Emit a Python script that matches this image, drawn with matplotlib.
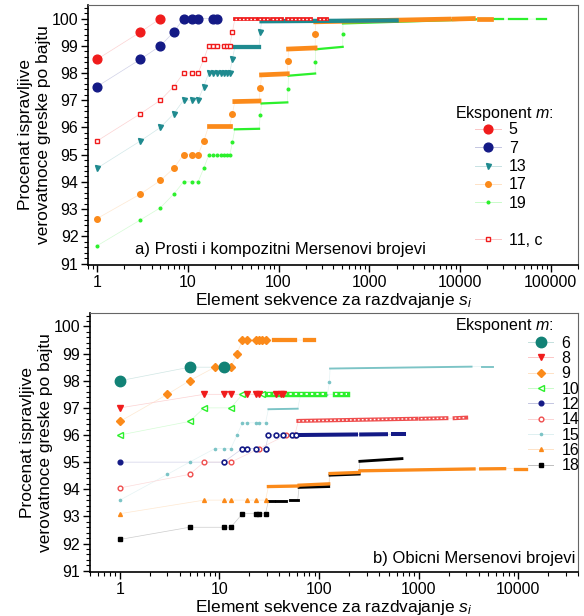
import numpy as np
import matplotlib.pyplot as plt
from matplotlib.lines import Line2D
from matplotlib.ticker import MultipleLocator, LogLocator, NullFormatter, FixedLocator, FixedFormatter
from matplotlib.colors import to_rgb

plt.rcParams['font.family'] = ['Liberation Sans', 'DejaVu Sans']
plt.rcParams['mathtext.fontset'] = 'custom'
plt.rcParams['mathtext.it'] = 'Liberation Sans:italic'
plt.rcParams['mathtext.rm'] = 'Liberation Sans'

# ---------- panel a) Prosti i kompozitni ----------
# isolated points (s_i, percent) and dense runs (s_start, s_end, y_start, y_end)
m5_pts = [(1, 98.5), (3, 99.5), (5, 100.0)]
m7_pts = [(1, 97.5), (3, 98.5), (5, 99.0), (7, 99.5), (9, 100), (11, 100), (13, 100), (19, 100), (21, 100)]
m13_pts = [(1, 94.5), (3, 95.5), (5, 96.0), (7, 96.5), (9, 97), (11, 97), (13, 97), (15, 97.5),
           (17, 98), (19, 98), (21, 98), (23, 98), (25, 98), (27, 98), (29, 98), (31, 98.5), (63, 99.5)]
m13_runs = [(33, 61, 98.95, 98.95), (65, 2000, 99.9, 99.93)]
m17_pts = [(1, 92.65), (3, 93.55), (5, 94.05), (7, 94.5), (9, 95), (11, 95), (13, 95), (15, 95.5),
           (31, 96.5), (63, 97.45), (127, 98.45), (255, 99.45)]
m17_runs = [(17, 29, 96.05, 96.05), (33, 61, 96.95, 96.97), (65, 125, 97.93, 97.97),
            (129, 253, 98.88, 98.92), (257, 7500, 99.88, 99.98), (8500, 14000, 99.98, 100.0),
            (16000, 22000, 100.0, 100.0)]
m19_pts = [(1, 91.65), (3, 92.6), (5, 93.05), (7, 93.55), (9, 94), (11, 94), (13, 94), (15, 94.5),
           (17, 94.97), (19, 94.97), (21, 94.97), (23, 94.97), (25, 94.97), (27, 94.97), (29, 94.97),
           (31, 95.45), (63, 96.45), (127, 97.4), (255, 98.4), (511, 99.45)]
m19_runs = [(33, 61, 95.93, 95.95), (65, 125, 96.88, 96.92), (129, 253, 97.9, 97.98),
            (257, 509, 98.87, 98.96), (513, 15000, 99.82, 99.97), (17000, 30000, 99.98, 99.98),
            (35000, 55000, 99.98, 99.98), (70000, 89000, 99.98, 99.98)]
m11c_pts = [(1, 95.5), (3, 96.5), (5, 97.0), (7, 97.5), (9, 98), (11, 98), (13, 98), (15, 98.5),
            (17, 99), (19, 99), (21, 99), (25, 99), (27, 99), (29, 99), (31, 99.5)]
m11c_runs = [(33, 57, 99.98, 99.98), (61, 77, 99.98, 99.98), (85, 110, 99.98, 99.98),
             (125, 230, 99.98, 99.98), (280, 345, 99.98, 99.98)]

# ---------- panel b) Obicni ----------
m6_pts = [(1, 98.0), (5, 98.5), (11, 98.5)]
m8_pts = [(1, 97.0), (7, 97.5), (11, 97.5), (13, 97.5), (19, 97.5), (23, 97.5), (25, 97.5),
          (37, 97.5), (41, 97.5), (43, 97.5)]
m9_pts = [(1, 96.5), (3, 97.5), (5, 98.0), (9, 98.5), (11, 98.5), (13, 98.5), (15, 99.0),
          (17, 99.5), (19, 99.5), (23, 99.5), (25, 99.5), (27, 99.5), (29, 99.5)]
m9_runs = [(35, 57, 99.5, 99.5), (73, 89, 99.5, 99.5)]
m10_pts = [(1, 96.0), (5, 96.5), (7, 97.0), (13, 97.0), (17, 97.5), (27, 97.5)]
m10_runs = [(31, 113, 97.5, 97.5), (145, 190, 97.5, 97.5)]
m12_pts = [(1, 95.0)]
m12_open = [(11, 95.0), (17, 95.5), (19, 95.5), (23, 95.5), (29, 95.5),
            (31, 96.0), (37, 96.0), (43, 96.0), (53, 96.0), (59, 96.0)]
m12_runs = [(63, 235, 96.0, 96.02), (265, 470, 96.02, 96.03), (550, 720, 96.03, 96.03)]
m14_pts = [(1, 94.05), (5, 94.55), (7, 95.0), (13, 95.0), (25, 95.5), (47, 96.0), (57, 96.0)]
m14_runs = [(62, 950, 96.52, 96.6), (1050, 1900, 96.6, 96.62), (2300, 3000, 96.62, 96.64)]
m15_pts = [(1, 93.6), (3, 94.55), (5, 95.0), (9, 95.5), (11, 95.5), (13, 95.5), (15, 96.0),
           (17, 96.45), (19, 96.45), (23, 96.45), (25, 96.45), (29, 96.45), (127, 97.95)]
m15_runs = [(31, 61, 96.95, 96.97), (65, 121, 97.45, 97.47), (129, 3400, 98.45, 98.52),
            (4300, 5600, 98.52, 98.52)]
m16_pts = [(1, 93.1), (7, 93.6), (11, 93.6), (13, 93.6), (19, 93.6), (23, 93.6), (29, 93.6)]
m16_runs = [(31, 61, 94.1, 94.12), (63, 125, 94.15, 94.2), (129, 253, 94.58, 94.62),
            (257, 3600, 94.68, 94.75), (4200, 7300, 94.75, 94.76), (9200, 12000, 94.76, 94.76)]
m18_pts = [(1, 92.15), (5, 92.6), (11, 92.6), (13, 92.6), (17, 93.1), (23, 93.1), (25, 93.1), (29, 93.1)]
m18_runs = [(31, 35, 93.58, 93.58), (37, 47, 93.58, 93.58), (51, 61, 93.6, 93.6),
            (63, 125, 94.07, 94.1), (129, 253, 94.52, 94.56), (257, 680, 95.03, 95.13)]

red = '#f01c1c'
navy = '#141a86'
teal = '#1f8a8f'
orange = '#fb8a1a'
lime = '#2cf02c'
pink = '#ef4d4d'
teal6 = '#128276'
teal15 = '#7cc4c6'


def light(c, a=0.3):
    r, g, b = to_rgb(c)
    return (1 - a + a * r, 1 - a + a * g, 1 - a + a * b)


def draw(ax, pts, runs, color, marker, ms, hollow=False, open_pts=(), z=3):
    allp = list(pts) + list(open_pts) + [(r[0], r[2]) for r in runs] + [(r[1], r[3]) for r in runs]
    allp.sort()
    ax.plot([p[0] for p in allp], [p[1] for p in allp], '-', color=light(color, 0.2), lw=0.5, zorder=1)
    for r in runs:
        ax.plot([r[0], r[1]], [r[2], r[3]], '-', color=color, lw=ms * 0.85,
                solid_capstyle='projecting', zorder=z)
        if hollow:
            ax.plot([r[0], r[1]], [r[2], r[3]], color='white', lw=ms * 0.3,
                    ls=(0, (1.2, 1.6)), dash_capstyle='butt', zorder=z)
    fc = 'white' if hollow else color
    if pts:
        ax.plot([p[0] for p in pts], [p[1] for p in pts], ls='none', marker=marker, ms=ms,
                mfc=fc, mec=color, mew=1.0, zorder=z)
    if open_pts:
        ax.plot([p[0] for p in open_pts], [p[1] for p in open_pts], ls='none', marker=marker, ms=ms,
                mfc='white', mec=color, mew=1.2, zorder=z)


def handle(color, marker, ms, hollow=False):
    return Line2D([], [], color=light(color, 0.25), lw=0.7, marker=marker, ms=ms,
                  mfc='white' if hollow else color, mec=color, mew=1.0)


def style(ax, xlim, xt, xtl):
    ax.set_xscale('log')
    ax.set_xlim(*xlim)
    ax.set_ylim(90.95, 100.5)
    ax.yaxis.set_major_locator(FixedLocator(list(range(91, 101))))
    ax.yaxis.set_minor_locator(MultipleLocator(0.2))
    ax.xaxis.set_major_locator(FixedLocator(xt))
    ax.xaxis.set_major_formatter(FixedFormatter(xtl))
    ax.xaxis.set_minor_locator(LogLocator(base=10, subs=np.arange(2, 10)))
    ax.xaxis.set_minor_formatter(NullFormatter())
    ax.tick_params(which='major', direction='out', length=5, width=1, labelsize=11.5, pad=2)
    ax.tick_params(which='minor', direction='out', length=3, width=0.8)
    for s in ['top', 'right']:
        ax.spines[s].set_color('#666666')
    for s in ['left', 'bottom']:
        ax.spines[s].set_linewidth(1.2)
    ax.set_ylabel('Procenat ispravljive\nverovatnoce greske po bajtu', fontsize=12.5, labelpad=0.5,
                  linespacing=1.25)
    ax.set_xlabel('Element sekvence za razdvajanje $s_i$', fontsize=12.5, labelpad=1)


fig = plt.figure(figsize=(5.84, 6.16), dpi=100)
ax1 = fig.add_axes([0.151, 0.570, 0.839, 0.422])
ax2 = fig.add_axes([0.154, 0.0714, 0.836, 0.4206])

# panel a
draw(ax1, m19_pts, m19_runs, lime, 'o', 1.9, z=3)
draw(ax1, m17_pts, m17_runs, orange, 'o', 4.0, z=3)
draw(ax1, m13_pts, m13_runs, teal, 'v', 3.6, z=4)
draw(ax1, m11c_pts, m11c_runs, red, 's', 3.2, hollow=True, z=5)
draw(ax1, m7_pts, [], navy, 'o', 6.3, z=6)
draw(ax1, m5_pts, [], red, 'o', 6.3, z=6)
style(ax1, (0.8, 2e5), [1, 10, 100, 1000, 10000, 100000], ['1', '10', '100', '1000', '10000', '100000'])
ax1.text(0.096, 0.058, 'a) Prosti i kompozitni Mersenovi brojevi', transform=ax1.transAxes,
         fontsize=12, va='center', ha='left')
h1 = [handle(red, 'o', 6.3), handle(navy, 'o', 6.3), handle(teal, 'v', 3.6), handle(orange, 'o', 4.0),
      handle(lime, 'o', 1.9), Line2D([], [], ls='none'), handle(red, 's', 3.2, hollow=True)]
l1 = ['5', '7', '13', '17', '19', ' ', '11, c']
ax1.text(0.749, 0.582, 'Eksponent $m$:', transform=ax1.transAxes, fontsize=11.5, va='center', ha='left')
ax1.legend(h1, l1, loc='upper left', bbox_to_anchor=(0.79, 0.548),
           frameon=False, fontsize=11.5, handlelength=1.6,
           handletextpad=0.5, labelspacing=0.21, borderpad=0, borderaxespad=0)

# panel b
draw(ax2, m18_pts, m18_runs, 'black', 's', 2.4, z=3)
draw(ax2, m16_pts, m16_runs, orange, '^', 2.8, z=3)
draw(ax2, m15_pts, m15_runs, teal15, 'o', 1.6, z=3)
draw(ax2, m14_pts, m14_runs, pink, 'o', 3.4, hollow=True, z=4)
draw(ax2, m12_pts, m12_runs, navy, 'o', 3.4, open_pts=m12_open, z=4)
draw(ax2, m10_pts, m10_runs, lime, '<', 4.6, hollow=True, z=5)
draw(ax2, m9_pts, m9_runs, orange, 'D', 3.6, z=5)
draw(ax2, m8_pts, [], red, 'v', 5.0, z=6)
draw(ax2, m6_pts, [], teal6, 'o', 7.5, z=6)
style(ax2, (0.5, 4e4), [1, 10, 100, 1000, 10000], ['1', '10', '100', '1000', '10000'])
ax2.text(0.994, 0.054, 'b) Obicni Mersenovi brojevi', transform=ax2.transAxes,
         fontsize=12, va='center', ha='right')
h2 = [handle(teal6, 'o', 7.5), handle(red, 'v', 5.0), handle(orange, 'D', 3.6), handle(lime, '<', 4.6, True),
      handle(navy, 'o', 3.4), handle(pink, 'o', 3.4, True), handle(teal15, 'o', 1.6),
      handle(orange, '^', 2.8), handle('black', 's', 2.4)]
l2 = ['6', '8', '9', '10', '12', '14', '15', '16', '18']
ax2.text(0.748, 0.95, 'Eksponent $m$:', transform=ax2.transAxes, fontsize=11.5, va='center', ha='left')
ax2.legend(h2, l2, loc='upper left', bbox_to_anchor=(0.897, 0.912),
           frameon=False, fontsize=11.5, handlelength=1.6,
           handletextpad=0.5, labelspacing=0.02, borderpad=0, borderaxespad=0)

fig.savefig('out.png', dpi=100)
